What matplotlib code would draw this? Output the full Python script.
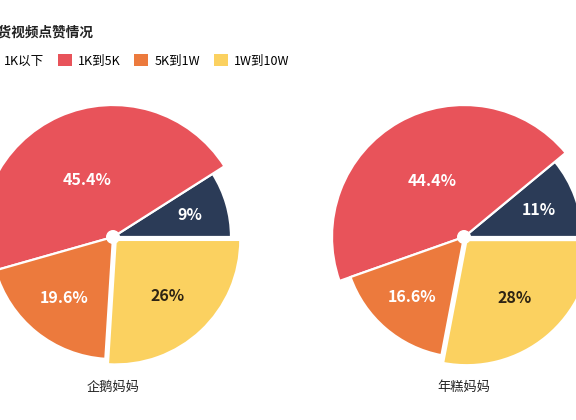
import numpy as np
import matplotlib
matplotlib.use('Agg')
import matplotlib.pyplot as plt
from matplotlib.patches import Wedge, Circle, Patch

plt.rcParams['font.family'] = ['Noto Sans CJK SC', 'DejaVu Sans']

# data
title = '带货视频点赞情况'
categories = ['1K以下', '1K到5K', '5K到1W', '1W到10W']
accounts = ['企鹅妈妈', '年糕妈妈']
penguin_share = [9, 45.4, 19.6, 26]
niangao_share = [11, 44.4, 16.6, 28]

colors = ['#2b3b57', '#e8535a', '#ec7a3d', '#fbd160']
label_colors = ['white', 'white', 'white', '#2e2414']

W, H = 576, 420
R_MIN, R_MAX = 118, 132   # rose-style radius range (px)
EXPLODE = [0, 0, 0, 4]    # yellow slice pulled out a bit


def draw_rose(ax, cx, cy, values, name):
    values = np.asarray(values, dtype=float)
    angles = np.cumsum(np.concatenate([[0], values / values.sum() * 360]))
    vmin, vmax = values.min(), values.max()
    radii = R_MIN + (values - vmin) / (vmax - vmin) * (R_MAX - R_MIN)
    for i, v in enumerate(values):
        t1, t2 = angles[i], angles[i + 1]
        mid = np.deg2rad((t1 + t2) / 2)
        half = np.deg2rad((t2 - t1) / 2)
        ox = cx + EXPLODE[i] * np.cos(mid)
        oy = cy + EXPLODE[i] * np.sin(mid)
        ax.add_patch(Wedge((ox, oy), radii[i], t1, t2, facecolor=colors[i],
                           edgecolor='white', linewidth=1.6))
        # label sits near the sector's centroid
        lr = 1.03 * 2 / 3 * radii[i] * np.sin(half) / half
        ax.text(ox + lr * np.cos(mid), oy + lr * np.sin(mid), f'{v:g}%',
                ha='center', va='center', fontsize=11.5, fontweight='bold',
                color=label_colors[i])
    ax.add_patch(Circle((cx, cy), 7, facecolor='white', edgecolor='none', zorder=5))
    ax.text(cx, H - 387, name, ha='center', va='center', fontsize=9.5,
            color='#222222')


fig = plt.figure(figsize=(W / 100, H / 100), dpi=100)
ax = fig.add_axes([0, 0, 1, 1])
ax.set_xlim(0, W)
ax.set_ylim(0, H)
ax.set_aspect('equal')
ax.axis('off')

draw_rose(ax, 113, H - 237, penguin_share, accounts[0])
draw_rose(ax, 464, H - 237, niangao_share, accounts[1])

fig.text(93 / W, (H - 33) / H, title, ha='right', va='center',
         fontsize=9.8, fontweight='bold', color='#222222')

handles = [Patch(facecolor=c, edgecolor='none') for c in colors]
fig.legend(handles, categories, loc='center left',
           bbox_to_anchor=(-16 / W, (H - 61) / H), ncol=4, frameon=False,
           fontsize=9, handlelength=1.1, handleheight=1.1,
           handletextpad=0.5, columnspacing=1.1, borderpad=0,
           borderaxespad=0)

fig.savefig('out.png', dpi=100)
